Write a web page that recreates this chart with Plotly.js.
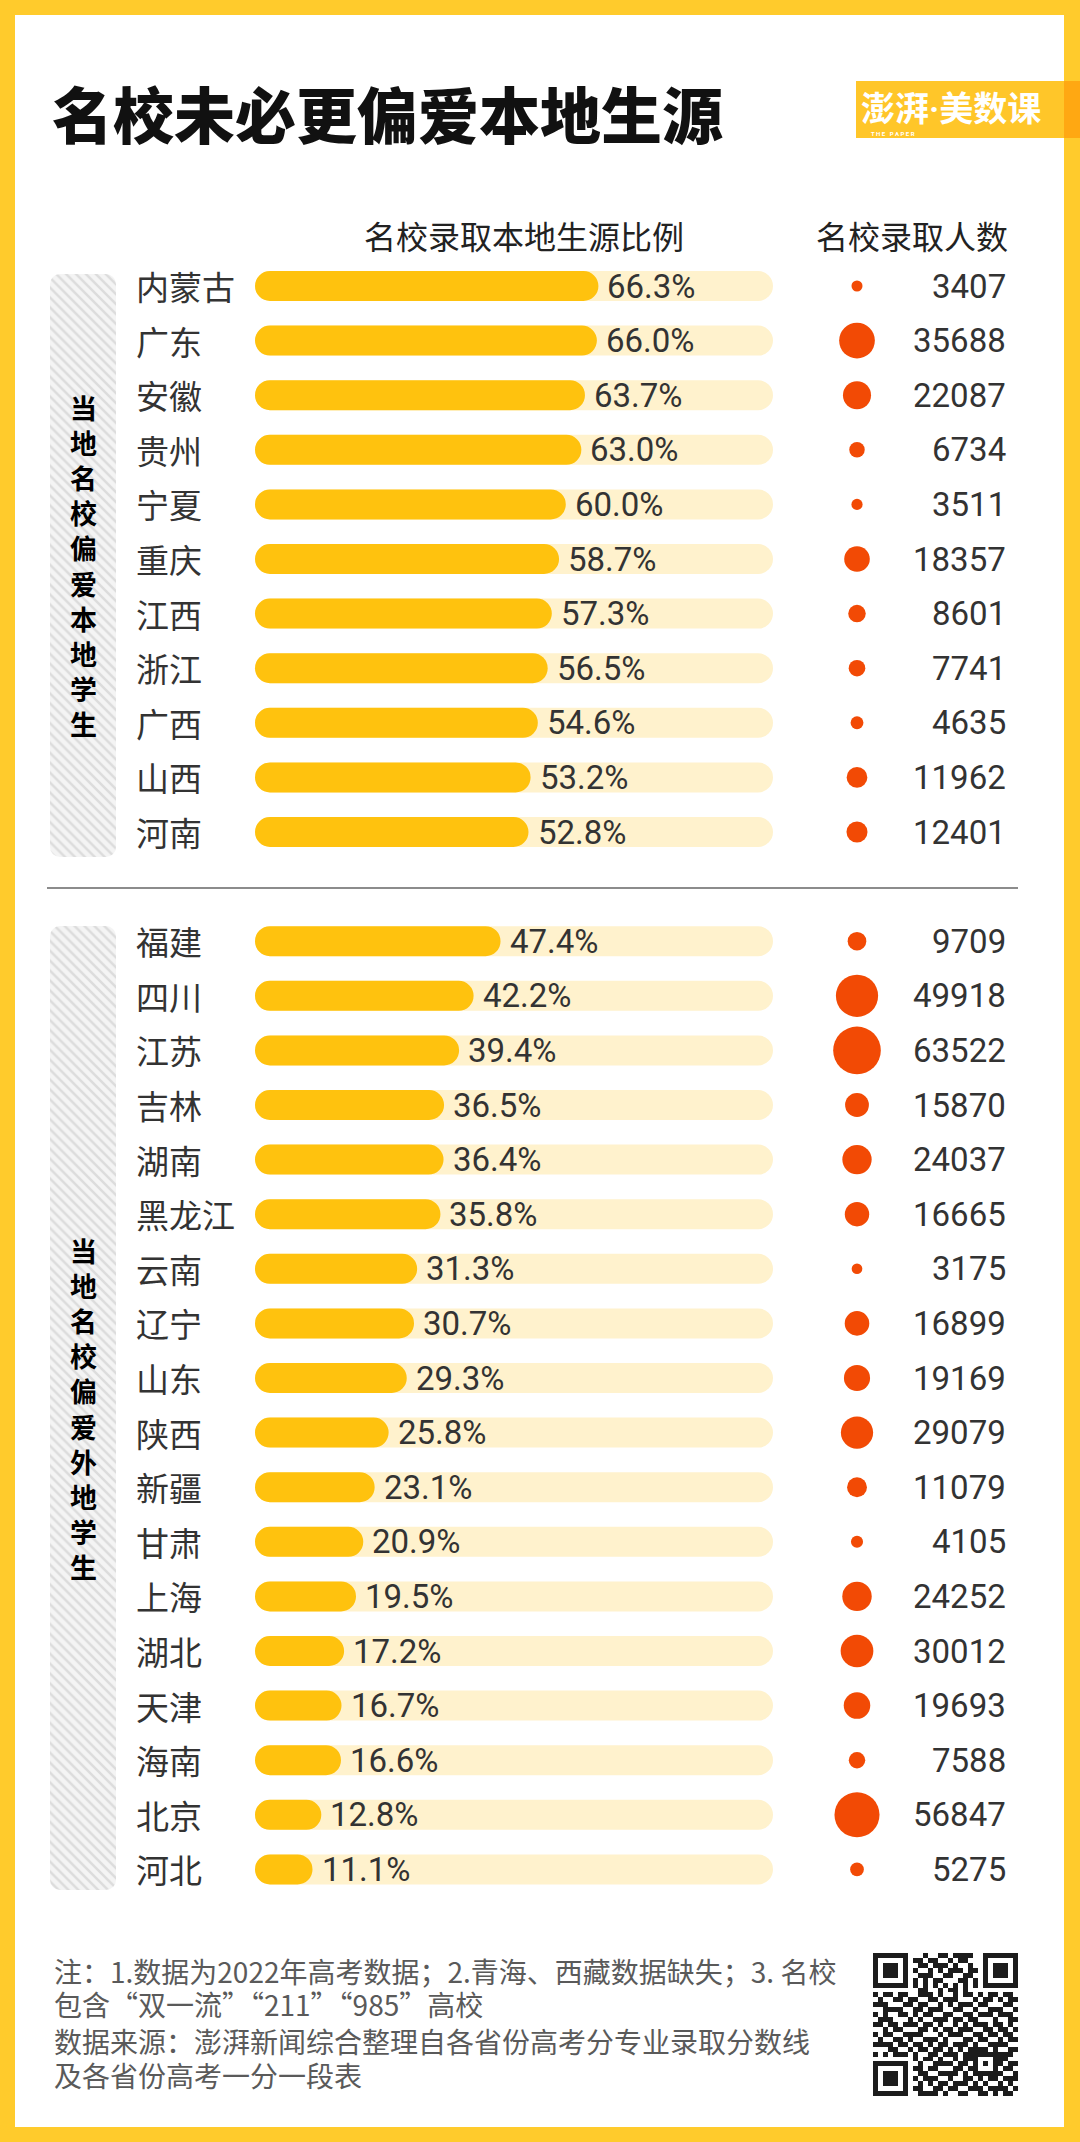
<!DOCTYPE html>
<html>
<head>
<meta charset="utf-8">
<script src="https://cdn.plot.ly/plotly-3.0.1.min.js"></script>
<style>html,body{margin:0;padding:0;background:#FFCB2C;}</style>
</head>
<body>
<div id="chart" style="width:1080px;height:2142px;"></div>
<script>
// ---------------- DATA ----------------
const chartTitle = '名校未必更偏爱本地生源';
const headerShare = '名校录取本地生源比例';
const headerCount = '名校录取人数';
const groupLabels = ['当地名校偏爱本地学生', '当地名校偏爱外地学生'];

const provincesLocal = ['内蒙古','广东','安徽','贵州','宁夏','重庆','江西','浙江','广西','山西','河南'];
const shareLocal = [66.3, 66.0, 63.7, 63.0, 60.0, 58.7, 57.3, 56.5, 54.6, 53.2, 52.8];
const countLocal = [3407, 35688, 22087, 6734, 3511, 18357, 8601, 7741, 4635, 11962, 12401];

const provincesOther = ['福建','四川','江苏','吉林','湖南','黑龙江','云南','辽宁','山东','陕西','新疆','甘肃','上海','湖北','天津','海南','北京','河北'];
const shareOther = [47.4, 42.2, 39.4, 36.5, 36.4, 35.8, 31.3, 30.7, 29.3, 25.8, 23.1, 20.9, 19.5, 17.2, 16.7, 16.6, 12.8, 11.1];
const countOther = [9709, 49918, 63522, 15870, 24037, 16665, 3175, 16899, 19169, 29079, 11079, 4105, 24252, 30012, 19693, 7588, 56847, 5275];

const noteLines = [
  '注：1.数据为2022年高考数据；2.青海、西藏数据缺失；3. 名校',
  '包含“双一流”“211”“985”高校',
  '数据来源：澎湃新闻综合整理自各省份高考分专业录取分数线',
  '及各省份高考一分一段表'
];
const logoLeft = '澎湃', logoDot = '·', logoRight = '美数课';
const logoSub = 'T H E   P A P E R';

// decorative QR code modules (hand transcribed approximation)
const qrData13 = ['0010011011110','1101100101100','0110111010010','1001010111011','0111001100110','1010110001101','1010101010101','0110010110100'];
const qrDataFull = [
  '10110110011101001011010110110','01001101100110111000101101011','11100011011001010111011000110',
  '00111100110111001100100111001','10100110101100110011011101110','01110001010011101101100010011',
  '11011011101101001010111011010','00101100011010110111001101101','10110011110001011100110110110',
  '01001101001110100011011001011','11110110110101101110100111100','00011001011011010101111010011',
  '10101110100110111011000111110'];
const qrData21 = ['101101001011011101100','010011110110101001011','110110001101100110110','011001111010111011001',
  '101110010011010110111','010101101110101001010','110011011001110111101','011110100110011010110'];

// ---------------- LAYOUT CONSTANTS ----------------
const W = 1080, H = 2142;
const ROW0 = 286, ROWSTEP = 54.6;
const TRACK_L = 255, TRACK_R = 773;
const PXU = (TRACK_R - TRACK_L) / 100;
const CIRCLE_X = 857, COUNT_RIGHT = 1008, LABEL_X = 134;
const C_FILL = '#FFC20E', C_TRACK = '#FFF2CD', C_DOT = '#F24A05', C_TEXT = '#333333';
const CJK = '"Noto Sans CJK SC", "Noto Sans", sans-serif';
const NUM = 'Roboto, "Noto Sans CJK SC", sans-serif';

const allProv = provincesLocal.concat(provincesOther);
const allShare = shareLocal.concat(shareOther);
const allCount = countLocal.concat(countOther);
const rowPos = allProv.map((_, i) => i < provincesLocal.length ? i : i + 1);
const BAR_W = 30 / ROWSTEP;

function pillBar(len, color) {
  return {type:'bar', orientation:'h', y: rowPos, x: len, base: len.map(() => 0), width: BAR_W,
    marker:{color: color, cornerradius:'50%', line:{width:0}}, hoverinfo:'skip', xaxis:'x', yaxis:'y'};
}

const traces = [];
traces.push(pillBar(rowPos.map(() => 100), C_TRACK));   // full-scale track
traces.push(pillBar(allShare, C_FILL));                  // values
// bubbles
traces.push({type:'scatter', mode:'markers', x: allCount.map(() => CIRCLE_X), y: rowPos,
  xaxis:'x2', yaxis:'y', cliponaxis:false, hoverinfo:'skip',
  marker:{size: allCount, sizemode:'area', sizeref:56, color: C_DOT, opacity:1, line:{width:0}}});

// group boxes (hatched) in pixel space
const boxes = [{top:274, bottom:857}, {top:926, bottom:1890}];
const boxMid = boxes.map(b => (b.top + b.bottom) / 2);
traces.push({type:'bar', x: boxes.map(() => 83), base: boxes.map(b => b.top), y: boxes.map(b => b.bottom - b.top),
  width: 66, xaxis:'x2', yaxis:'y2', hoverinfo:'skip',
  marker:{color:'#f3f3f3', cornerradius:10, line:{width:0},
    pattern:{shape:'\\', fgcolor:'#dcdcdc', bgcolor:'#f4f4f4', size:7, solidity:0.35}}});

// QR matrix
const F = ['1111111','1000001','1011101','1011101','1011101','1000001','1111111'];
const A = ['11111','10001','10101','10001','11111'];
const qr = [];
for (let r = 0; r < 29; r++) {
  let s;
  if (r < 7) s = F[r] + '0' + qrData13[r] + '0' + F[r];
  else if (r === 7) s = '00000000' + qrData13[7] + '00000000';
  else if (r <= 20) s = qrDataFull[r - 8];
  else if (r === 21) s = '00000000' + qrData21[0];
  else s = F[r - 22] + '0' + qrData21[r - 21];
  s = (s + '0'.repeat(29)).slice(0, 29).split('').map(Number);
  if (r >= 8 && r <= 20) s[6] = (r % 2 === 0) ? 1 : 0;
  if (r >= 20 && r <= 24) for (let c = 0; c < 5; c++) s[20 + c] = Number(A[r - 20][c]);
  qr.push(s);
}
traces.push({type:'heatmap', z: qr, xaxis:'x3', yaxis:'y3', showscale:false, zmin:0, zmax:1,
  colorscale:[[0,'#ffffff'],[1,'#1c1c1c']], hoverinfo:'skip'});

// ---------------- ANNOTATIONS ----------------
const ann = [];
function px(text, x, y, size, color, opts) {
  return Object.assign({xref:'x2', yref:'y2', x:x, y:y, text:text, showarrow:false,
    xanchor:'center', yanchor:'middle', font:{family:CJK, size:size, color:color}}, opts || {});
}
ann.push(px(chartTitle, 50, 112, 61, '#111111', {xanchor:'left', font:{family:CJK, size:61, color:'#111111', weight:900}}));
ann.push(px(headerShare, 524, 235, 32, '#222222'));
ann.push(px(headerCount, 912, 235, 32, '#222222'));
ann.push(px(logoLeft + '<span style="font-family:Roboto">' + logoDot + '</span>' + logoRight, 951, 106, 34, '#ffffff',
  {font:{family:CJK, size:34, color:'#ffffff', weight:700}, borderpad:0}));
ann.push(px(logoSub, 893, 133, 6, '#ffffff', {font:{family:NUM, size:6, color:'#ffffff', weight:700}, borderpad:0}));

allProv.forEach((p, i) => {
  ann.push({xref:'x2', yref:'y', x: LABEL_X, y: rowPos[i], text: p, showarrow:false, xanchor:'left', yanchor:'middle',
    font:{family:CJK, size:33, color:C_TEXT}});
  ann.push({xref:'x', yref:'y', x: allShare[i], y: rowPos[i], text: allShare[i].toFixed(1) + '%', showarrow:false,
    xanchor:'left', yanchor:'middle', xshift:7, font:{family:NUM, size:33, color:C_TEXT}});
  ann.push({xref:'x2', yref:'y', x: COUNT_RIGHT, y: rowPos[i], text: String(allCount[i]), showarrow:false,
    xanchor:'right', yanchor:'middle', font:{family:NUM, size:33, color:C_TEXT}});
});

// vertical group labels: one character per line
groupLabels.forEach((g, gi) => {
  ann.push(px(Array.from(g).join('<br>'), 83, boxMid[gi], 27, '#000000',
    {font:{family:CJK, size:27, color:'#000000', weight:700}, borderpad:0}));
});

const noteY = [1971, 2004, 2041, 2075];
noteLines.forEach((t, i) => ann.push(px(t, 52, noteY[i], 28, '#5a5a5a', {xanchor:'left'})));

// ---------------- SHAPES ----------------
const shapes = [
  {type:'rect', xref:'x2', yref:'y2', x0:15, x1:1064, y0:15, y1:2127, fillcolor:'#ffffff', line:{width:0}, layer:'below'},
  {type:'rect', xref:'x2', yref:'y2', x0:856, x1:1064, y0:81, y1:138, fillcolor:'#FFC629', line:{width:0}, layer:'below'},
  {type:'rect', xref:'x2', yref:'y2', x0:1064, x1:1080, y0:81, y1:138, fillcolor:'#FFA812', line:{width:0}, layer:'below'},
  {type:'line', xref:'x2', yref:'y2', x0:47, x1:1018, y0:888, y1:888, line:{color:'#8c8c8c', width:2}}
];

const hidden = {visible:false, showgrid:false, zeroline:false, fixedrange:true};
const layout = {
  width: W, height: H, margin:{l:0, r:0, t:0, b:0, pad:0},
  paper_bgcolor:'#FFCB2C', plot_bgcolor:'rgba(0,0,0,0)', showlegend:false, barmode:'overlay',
  hovermode:false,
  xaxis: Object.assign({domain:[0,1], range:[-TRACK_L / PXU, (W - TRACK_L) / PXU]}, hidden),
  yaxis: Object.assign({domain:[0,1], range:[(H - ROW0) / ROWSTEP, -ROW0 / ROWSTEP]}, hidden),
  xaxis2: Object.assign({overlaying:'x', range:[0, W], anchor:'y2'}, hidden),
  yaxis2: Object.assign({overlaying:'y', range:[H, 0], anchor:'x2'}, hidden),
  xaxis3: Object.assign({domain:[873 / W, 1018 / W], anchor:'y3'}, hidden),
  yaxis3: Object.assign({domain:[1 - 2096 / H, 1 - 1953 / H], anchor:'x3', autorange:'reversed'}, hidden),
  annotations: ann,
  shapes: shapes
};

Plotly.newPlot('chart', traces, layout, {staticPlot:true, displayModeBar:false});
</script>
</body>
</html>
